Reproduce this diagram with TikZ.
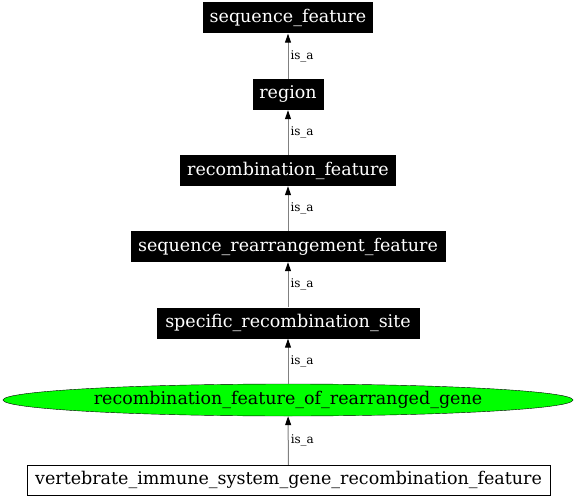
\documentclass[tikz,border=0pt]{standalone}
\usepackage{fontspec}
\setmainfont{DejaVu Serif}
\usetikzlibrary{shapes.geometric,arrows.meta}
\begin{document}
\begin{tikzpicture}[x=1pt,y=-1pt,
    term/.style={rectangle,fill=black,text=white,minimum height=31pt,inner sep=0pt,font=\fontsize{17.5}{20}\selectfont},
    focus/.style={ellipse,draw=black,fill=green,minimum height=32pt,inner sep=0pt,font=\fontsize{17.5}{20}\selectfont},
    leaf/.style={rectangle,draw=black,fill=white,minimum height=30pt,inner sep=0pt,font=\fontsize{17.5}{20}\selectfont},
    isa/.style={draw=gray,line width=1pt,-{Triangle[length=9pt,width=6pt,fill=black,color=black]}},
    rel/.style={right,inner sep=2pt,font=\fontsize{12}{14}\selectfont,pos=0.5}]
\useasboundingbox (0,0) rectangle (576,500);

\node[term,minimum width=170pt] (seqfeat) at (288,18) {sequence\_feature};
\node[term,minimum width=71pt] (region) at (288,94.5) {region};
\node[term,minimum width=216pt] (recfeat) at (288,170.5) {recombination\_feature};
\node[term,minimum width=315pt] (rearr) at (288,246.5) {sequence\_rearrangement\_feature};
\node[term,minimum width=263pt] (site) at (288,323) {specific\_recombination\_site};
\node[focus,minimum width=570pt] (gene) at (288,400) {recombination\_feature\_of\_rearranged\_gene};
\node[leaf,minimum width=523pt] (immune) at (288.5,480) {vertebrate\_immune\_system\_gene\_recombination\_feature};

\draw[isa] (region) -- node[rel] {is\_a} (seqfeat);
\draw[isa] (recfeat) -- node[rel] {is\_a} (region);
\draw[isa] (rearr) -- node[rel] {is\_a} (recfeat);
\draw[isa] (site) -- node[rel] {is\_a} (rearr);
\draw[isa] (gene) -- node[rel] {is\_a} (site);
\draw[isa] (immune) -- node[rel] {is\_a} (gene);
\end{tikzpicture}
\end{document}
